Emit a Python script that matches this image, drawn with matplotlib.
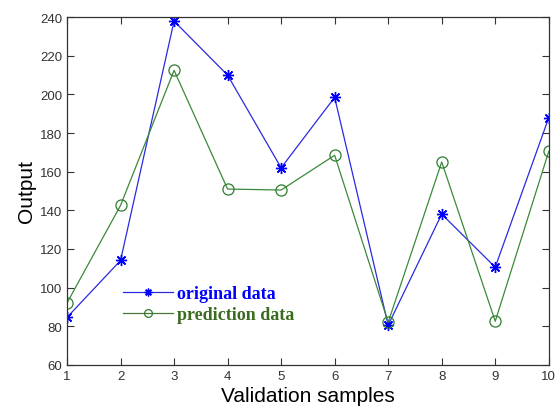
import matplotlib
matplotlib.use("Agg")
import matplotlib.pyplot as plt

samples = [1, 2, 3, 4, 5, 6, 7, 8, 9, 10]
original = [84.5, 114, 238, 210, 162, 198.5, 80.5, 138, 110.5, 188]
prediction = [92, 142.5, 212.5, 151, 150.5, 168.5, 82, 165, 82.5, 170.5]
xticks = [1, 2, 3, 4, 5, 6, 7, 8, 9, 10]
yticks = [60, 80, 100, 120, 140, 160, 180, 200, 220, 240]

fig = plt.figure(figsize=(5.56, 4.10), dpi=100)
ax = fig.add_axes([0.1205, 0.108, 0.8665, 0.8475])

l1, = ax.plot(samples, original, color='#2a2ae0', lw=0.9, marker=(8, 2, 0), ms=8,
              mec='#0000ff', mfc='#0000ff', mew=1.0, label='original data')
l2, = ax.plot(samples, prediction, color='#3a8a3a', lw=0.9, marker='o', ms=8,
              mec='#2e7d2e', mfc='none', mew=0.9, label='prediction data')

ax.set_xlim(1, 10)
ax.set_ylim(60, 240)
ax.set_xticks(xticks)
ax.set_yticks(yticks)
ax.tick_params(direction='in', length=5, width=0.8, colors='#333333',
               labelsize=9.5, top=True, right=True, labeltop=False, labelright=False)
for s in ax.spines.values():
    s.set_color('#333333')
    s.set_linewidth(0.9)
for lab in ax.get_xticklabels() + ax.get_yticklabels():
    lab.set_fontfamily('Liberation Sans')
    lab.set_color('#333333')

ax.set_xlabel('Validation samples', fontsize=15, fontfamily='Liberation Sans', labelpad=3)
ax.set_ylabel('Output', fontsize=15, fontfamily='Liberation Sans', labelpad=3)

leg = ax.legend(handles=[l1, l2], loc='upper left', bbox_to_anchor=(0.082, 0.275),
                frameon=False, handlelength=2.8, handletextpad=0.2, labelspacing=0.2,
                markerscale=0.7,
                prop={'family': 'Liberation Serif', 'weight': 'bold', 'size': 13})
leg.get_texts()[0].set_color('#0000ff')
leg.get_texts()[1].set_color('#3b6b1f')
leg.get_lines()[1].set_color('#4a7a3a')

fig.savefig('out.png', dpi=100)
